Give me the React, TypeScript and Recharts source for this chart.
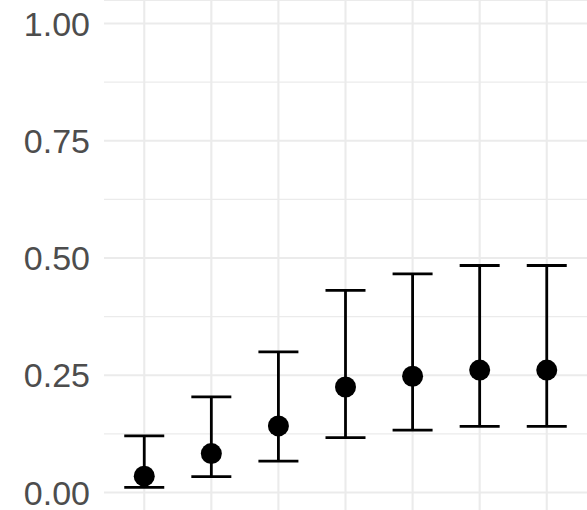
import React from 'react';
import {
  ComposedChart,
  Scatter,
  ErrorBar,
  XAxis,
  YAxis,
  CartesianGrid,
  ReferenceLine,
} from 'recharts';

const categories = [1, 2, 3, 4, 5, 6, 7];
const means = [0.035, 0.083, 0.142, 0.225, 0.248, 0.261, 0.261];
const lowers = [0.011, 0.034, 0.067, 0.117, 0.133, 0.141, 0.141];
const uppers = [0.121, 0.204, 0.3, 0.431, 0.466, 0.484, 0.484];
const yTicks = [0, 0.25, 0.5, 0.75, 1];
const yMinorTicks = [0.125, 0.375, 0.625, 0.875];

const data = categories.map((c, i) => ({
  x: c,
  y: means[i],
  err: [means[i] - lowers[i], uppers[i] - means[i]],
}));

const Dot = (props: any) => {
  const { cx, cy } = props;
  return <circle cx={cx} cy={cy} r={10.5} fill="#000000" />;
};

export default function App() {
  return (
    <div
      style={{
        position: 'absolute',
        left: 0,
        top: 0,
        width: 587,
        height: 510,
        overflow: 'hidden',
        background: '#ffffff',
      }}
    >
      <ComposedChart
        width={587}
        height={516}
        data={data}
        margin={{ top: 0, right: 0, bottom: 0, left: 0 }}
      >
        <CartesianGrid stroke="#EBEBEB" strokeWidth={2.1} vertical={false} />
        {yMinorTicks.map((v) => (
          <ReferenceLine key={`h${v}`} y={v} stroke="#EBEBEB" strokeWidth={1.1} />
        ))}
        {categories.map((c) => (
          <ReferenceLine key={`v${c}`} x={c} stroke="#EBEBEB" strokeWidth={2.1} />
        ))}
        <XAxis
          type="number"
          dataKey="x"
          domain={[0.4, 7.6]}
          ticks={categories}
          tick={false}
          axisLine={false}
          tickLine={false}
          height={0}
        />
        <YAxis
          type="number"
          domain={[-0.05, 1.05]}
          ticks={yTicks}
          tickFormatter={(v: number) => v.toFixed(2)}
          width={104}
          axisLine={false}
          tickLine={false}
          tickMargin={8}
          tick={{ fill: '#4D4D4D', fontSize: 34, fontFamily: 'Liberation Sans, Arial, sans-serif' }}
        />
        <Scatter dataKey="y" isAnimationActive={false} shape={Dot} fill="#000000">
          <ErrorBar
            dataKey="err"
            direction="y"
            width={20}
            stroke="#000000"
            strokeWidth={2.8}
            isAnimationActive={false}
          />
        </Scatter>
      </ComposedChart>
    </div>
  );
}
